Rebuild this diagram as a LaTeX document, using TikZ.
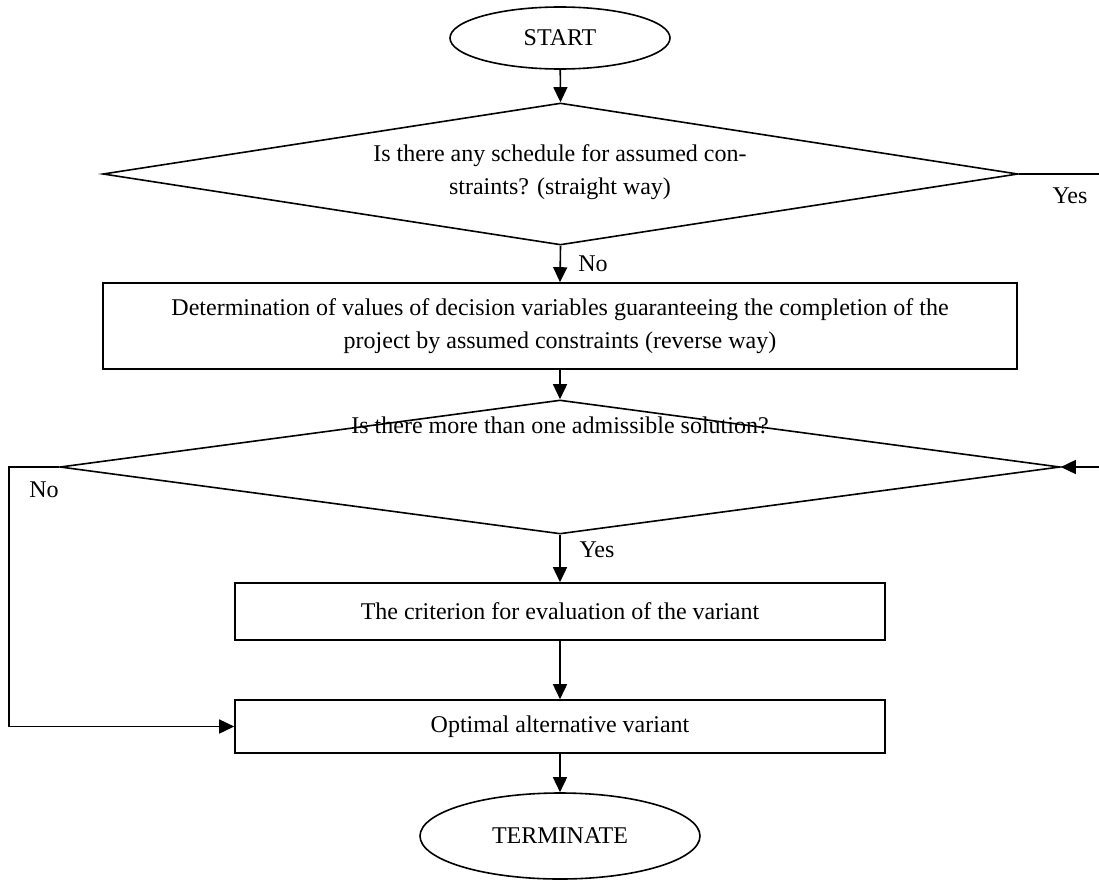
\documentclass[tikz,border=0pt]{standalone}
\usepackage{fontspec}
\setmainfont{Liberation Serif}
\usetikzlibrary{shapes.geometric,arrows.meta}
\begin{document}
\begin{tikzpicture}[x=1pt,y=-1pt,line width=1.6pt,
  txt/.style={font=\fontsize{24}{33}\selectfont,inner sep=0pt},
  term/.style={ellipse,draw,txt},
  proc/.style={rectangle,draw,txt,align=center,inner sep=0pt},
  dec/.style={diamond,draw,inner sep=0pt},
  arr/.style={-{Triangle[length=15pt,width=14pt]}}]
\useasboundingbox (0,0) rectangle (1099,880);
\node[term,minimum width=220pt,minimum height=62pt] (start) at (560,38) {START};
\node[dec,minimum width=915pt,minimum height=142pt,aspect=6.44] (d1) at (560.5,174) {};
\node[txt,align=center] (d1t) at (560,172) {Is there any schedule for assumed con-\\straints? (straight way)};
\coordinate (yesend) at (1099,174);
\node[txt] (yes1) at (1070,196) {Yes};
\node[proc,minimum width=914pt,minimum height=86pt] (b1) at (560,326) {Determination of values of decision variables guaranteeing the completion of the\\project by assumed constraints (reverse way)};
\node[txt] (no1) at (593,264) {No};
\node[dec,minimum width=1000pt,minimum height=134pt,aspect=7.46] (d2) at (560,467) {};
\node[txt] (d2t) at (560,425) {Is there more than one admissible solution?};
\coordinate (rin) at (1099,467);
\coordinate (lcorner) at (9,467);
\node[txt] (no2) at (44,490) {No};
\node[txt] (yes2) at (597,550) {Yes};
\node[proc,minimum width=650pt,minimum height=57pt] (b2) at (560,611.5) {The criterion for evaluation of the variant};
\node[proc,minimum width=650pt,minimum height=53pt] (b3) at (560,726.5) {Optimal alternative variant};
\node[term,minimum width=280pt,minimum height=86pt] (end) at (560,836) {TERMINATE};
\draw[arr] (start) -- (d1.north);
\draw (d1.east) -- (yesend);
\draw[arr] (d1.south) -- (b1.north);
\draw[arr] (b1.south) -- (d2.north);
\draw[arr] (rin) -- (d2.east);
\draw[arr] (d2.south) -- (b2.north);
\draw[arr] (b2.south) -- (b3.north);
\draw[arr] (d2.west) -- (lcorner) |- (b3.west);
\draw[arr] (b3.south) -- (end.north);
\end{tikzpicture}
\end{document}
